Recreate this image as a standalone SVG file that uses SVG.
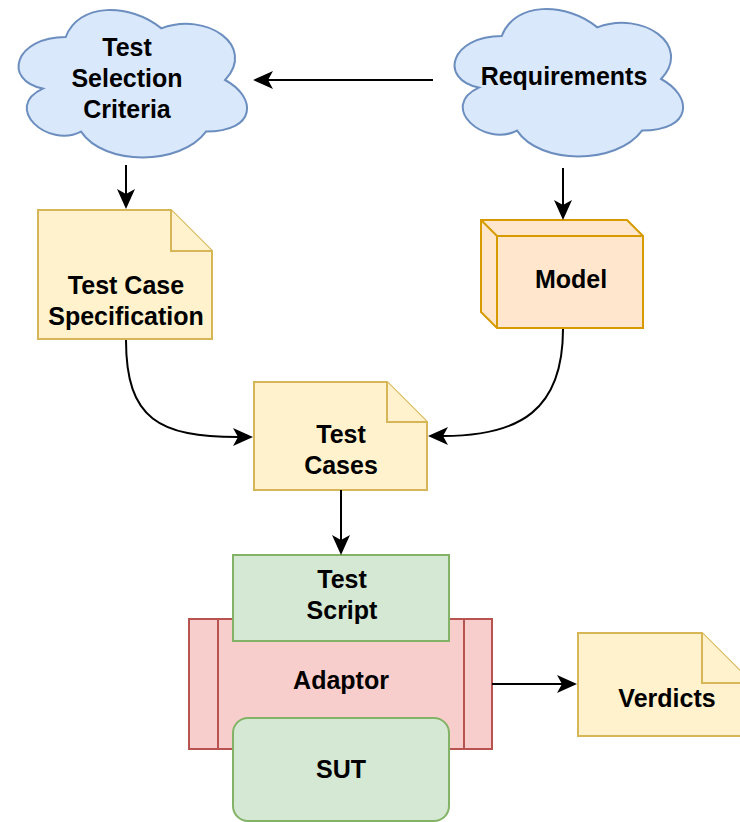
<svg xmlns="http://www.w3.org/2000/svg" width="740" height="822" viewBox="0 0 740 822">
  <style>
    .label { font-family: "Liberation Sans", Arial, sans-serif; font-size: 25px; font-weight: bold; fill: #000; text-anchor: middle; }
    .cloud { fill: #dae8fc; stroke: #6c8ebf; stroke-width: 2; }
    .note { fill: #fff2cc; stroke: #d6b656; stroke-width: 2; stroke-linejoin: miter; }
    .cube { fill: #ffe6cc; stroke: #d79b00; stroke-width: 2; }
    .process { fill: #f8cecc; stroke: #b85450; stroke-width: 2; }
    .green { fill: #d5e8d4; stroke: #82b366; stroke-width: 2; }
    .edge { fill: none; stroke: #000; stroke-width: 2; }
  </style>
  <defs>
    <!-- classic notched arrowhead; origin sits at the notch where the line ends -->
    <marker id="arrow" markerUnits="userSpaceOnUse" markerWidth="22" markerHeight="22" viewBox="-6 -11 22 22" refX="0" refY="0" orient="auto">
      <path d="M15,0 L-5,-9 L0,0 L-5,9 Z" fill="#000"/>
    </marker>
  </defs>

  <rect width="740" height="822" fill="#fff"/>

  <!-- Test Selection Criteria -->
  <g id="test-selection-criteria">
    <path class="cloud" d="M65.75 37 C14.75 37 2 80 42.8 88.6 C2 107.5 47.9 148.8 81.05 131.6 C104 166 180.5 166 206 131.6 C257 131.6 257 97.2 225.1 80 C257 45.6 206 11.2 161.4 28.4 C129.5 2.6 78.5 2.6 65.75 37 Z"/>
    <text class="label" x="127" y="56">Test</text>
    <text class="label" x="127" y="87">Selection</text>
    <text class="label" x="127" y="118">Criteria</text>
  </g>

  <!-- Requirements -->
  <g id="requirements">
    <path class="cloud" d="M501.75 36 C450.75 36 438 79 478.8 87.6 C438 106.5 483.9 147.8 517.05 130.6 C540 165 616.5 165 642 130.6 C693 130.6 693 96.2 661.1 79 C693 44.6 642 10.2 597.4 27.4 C565.5 1.6 514.5 1.6 501.75 36 Z"/>
    <text class="label" x="564" y="85">Requirements</text>
  </g>

  <!-- Test Case Specification -->
  <g id="test-case-specification">
    <path class="note" d="M38 210 L171 210 L212 251 L212 339 L38 339 Z"/>
    <path class="note" d="M171 210 L171 251 L212 251"/>
    <text class="label" x="126" y="294">Test Case</text>
    <text class="label" x="126" y="325">Specification</text>
  </g>

  <!-- Model -->
  <g id="model">
    <path class="cube" d="M481 220 L627 220 L643 236 L643 328 L497 328 L481 312 Z"/>
    <path class="cube" style="fill:none" d="M481 220 L497 236 L643 236 M497 236 L497 328"/>
    <text class="label" x="571" y="288">Model</text>
  </g>

  <!-- Test Cases -->
  <g id="test-cases">
    <path class="note" d="M254 382 L387 382 L427 422 L427 490 L254 490 Z"/>
    <path class="note" d="M387 382 L387 422 L427 422"/>
    <text class="label" x="341" y="443">Test</text>
    <text class="label" x="341" y="474">Cases</text>
  </g>

  <!-- Adaptor -->
  <g id="adaptor">
    <rect class="process" x="189" y="619" width="303" height="130"/>
    <path class="process" d="M218 619 L218 749 M464 619 L464 749"/>
    <text class="label" x="341" y="689">Adaptor</text>
  </g>

  <!-- Test Script -->
  <g id="test-script">
    <rect class="green" x="233" y="555" width="216" height="86"/>
    <text class="label" x="342" y="588">Test</text>
    <text class="label" x="342" y="619">Script</text>
  </g>

  <!-- SUT -->
  <g id="sut">
    <rect class="green" x="233" y="718" width="216" height="103" rx="15" ry="15"/>
    <text class="label" x="341" y="778">SUT</text>
  </g>

  <!-- Verdicts -->
  <g id="verdicts">
    <path class="note" d="M578 633 L702 633 L752 683 L752 736 L578 736 Z"/>
    <path class="note" d="M702 633 L702 683 L752 683"/>
    <text class="label" x="667" y="707">Verdicts</text>
  </g>

  <!-- Connectors -->
  <g id="connectors">
    <path class="edge" marker-end="url(#arrow)" d="M433 80 L268 80"/>
    <path class="edge" marker-end="url(#arrow)" d="M126 165 L126 194"/>
    <path class="edge" marker-end="url(#arrow)" d="M563 168 L563 205"/>
    <path class="edge" marker-end="url(#arrow)" d="M126 340 C126 420 160 437 238 437"/>
    <path class="edge" marker-end="url(#arrow)" d="M563 329 C563 410 520 436 443 436"/>
    <path class="edge" marker-end="url(#arrow)" d="M341 490 L341 540"/>
    <path class="edge" marker-end="url(#arrow)" d="M492 684 L562 684"/>
  </g>
</svg>
